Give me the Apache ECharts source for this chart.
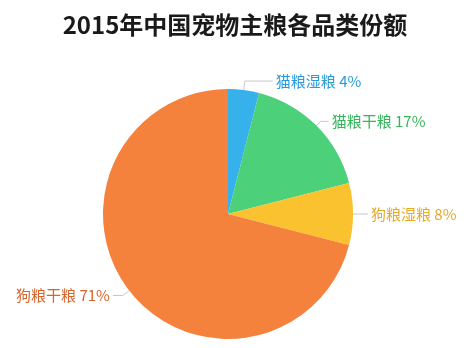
<!DOCTYPE html>
<html>
<head>
<meta charset="utf-8">
<script src="https://cdn.jsdelivr.net/npm/echarts@6/dist/echarts.min.js"></script>
<style>
  html, body { margin: 0; padding: 0; background: #fff; }
  #chart { width: 470px; height: 348px; }
</style>
</head>
<body>
<div id="chart"></div>
<script>
// 2015年中国宠物主粮各品类份额
const categories = ['猫粮湿粮', '猫粮干粮', '狗粮湿粮', '狗粮干粮'];
const shares = [4, 17, 8, 71];
const sliceColors = ['#36b1ec', '#4dd07a', '#f9c22e', '#f4823d'];
const labelColors = ['#2a9bd6', '#36b45a', '#e3ab28', '#d6642b'];
// 标注线长度（第一段, 第二段），按参考图逐个调
const lineLens = [[9, 28], [6, 8], [8, 7], [8, 10]];

const chart = echarts.init(document.getElementById('chart'));

const data = categories.map((name, i) => ({
    name,
    value: shares[i],
    itemStyle: { color: sliceColors[i] },
    label: { color: labelColors[i] },
    labelLine: { length: lineLens[i][0], length2: lineLens[i][1] },
}));

chart.setOption({
    animation: false,
    title: {
        text: '2015年中国宠物主粮各品类份额',
        left: 'center',
        top: 8,
        textStyle: {
            fontFamily: 'Noto Sans CJK SC',
            fontSize: 24,
            fontWeight: 'bold',
            color: '#1a1a1a',
        },
    },
    series: [{
        type: 'pie',
        center: [228, 214],
        radius: 125,
        startAngle: 90,
        clockwise: true,
        data,
        label: {
            show: true,
            formatter: '{b} {c}%',
            fontFamily: 'Noto Sans CJK SC',
            fontSize: 15,
            distanceToLabelLine: 3,
        },
        labelLine: {
            show: true,
            lineStyle: { color: '#c8c8c8', width: 1 },
        },
    }],
});
</script>
</body>
</html>
